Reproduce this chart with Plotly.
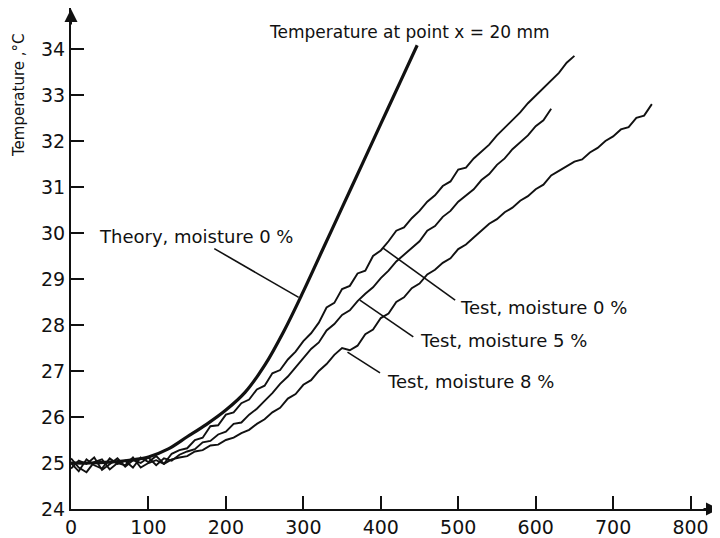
import plotly.graph_objects as go

# ---------------- data ----------------
theory_x = [0, 25, 50, 75, 100, 125, 150, 175, 200, 225, 250, 275, 300, 325, 350, 375, 400, 425, 447]
theory_t = [25.0, 25.0, 25.02, 25.06, 25.13, 25.3, 25.57, 25.84, 26.15, 26.54, 27.12, 27.87, 28.73, 29.64,
            30.55, 31.46, 32.37, 33.28, 34.08]

test0_x = list(range(0, 651, 10))
test0_t = [25.0, 24.82, 25.08, 24.95, 24.88, 25.1, 24.98, 25.05, 24.9, 25.12,
           25.02, 25.15, 24.98, 25.2, 25.28, 25.32, 25.5, 25.55, 25.8, 25.82,
           26.05, 26.1, 26.3, 26.38, 26.6, 26.68, 26.95, 27.02, 27.25, 27.42,
           27.65, 27.82, 28.05, 28.38, 28.48, 28.78, 28.85, 29.12, 29.18, 29.5,
           29.62, 29.82, 30.05, 30.12, 30.32, 30.48, 30.68, 30.82, 31.02, 31.12,
           31.38, 31.42, 31.62, 31.78, 31.92, 32.12, 32.28, 32.45, 32.62, 32.82,
           32.98, 33.15, 33.32, 33.48, 33.7, 33.85]

test5_x = list(range(0, 621, 10))
test5_t = [24.88, 25.05, 24.98, 25.12, 24.85, 24.98, 25.1, 24.92, 25.06, 25.0,
           25.12, 24.95, 25.1, 25.05, 25.18, 25.25, 25.3, 25.45, 25.48, 25.62,
           25.68, 25.85, 25.88, 26.05, 26.18, 26.35, 26.52, 26.72, 26.88, 27.08,
           27.28, 27.48, 27.62, 27.88, 28.02, 28.22, 28.32, 28.52, 28.68, 28.82,
           29.02, 29.18, 29.38, 29.52, 29.68, 29.82, 30.05, 30.15, 30.35, 30.48,
           30.68, 30.82, 30.95, 31.15, 31.28, 31.48, 31.62, 31.82, 31.98, 32.12,
           32.32, 32.45, 32.7]

test8_x = list(range(0, 751, 10))
test8_t = [25.1, 24.9, 24.8, 25.02, 25.08, 24.86, 25.0, 24.95, 25.12, 24.9,
           25.0, 25.06, 24.98, 25.08, 25.12, 25.15, 25.25, 25.28, 25.38, 25.4,
           25.5, 25.55, 25.65, 25.72, 25.85, 25.95, 26.1, 26.2, 26.4, 26.5,
           26.7, 26.8, 27.0, 27.15, 27.35, 27.5, 27.45, 27.55, 27.8, 27.9,
           28.15, 28.25, 28.5, 28.6, 28.8, 28.9, 29.1, 29.2, 29.35, 29.45,
           29.65, 29.75, 29.9, 30.05, 30.2, 30.3, 30.45, 30.55, 30.7, 30.8,
           30.95, 31.05, 31.25, 31.35, 31.45, 31.55, 31.6, 31.75, 31.85, 32.0,
           32.1, 32.25, 32.3, 32.5, 32.55, 32.8]

x_ticks = [0, 100, 200, 300, 400, 500, 600, 700, 800]
y_ticks = [24, 25, 26, 27, 28, 29, 30, 31, 32, 33, 34]

# labels: (text, text_x, text_y, leader_from_x, leader_from_y, leader_to_x, leader_to_y)
labels = [
    ("Theory, moisture 0 %", 33, 29.93, 185, 29.66, 294, 28.6),
    ("Test, moisture 0 %", 500, 28.39, 403, 29.67, 496, 28.54),
    ("Test, moisture 5 %", 448, 27.67, 373, 28.54, 442, 27.74),
    ("Test, moisture 8 %", 406, 26.78, 357, 27.41, 399, 26.96),
]
title_text = "Temperature at point x = 20 mm"
ytitle_text = "Temperature ,°C"

FONT = "DejaVu Sans"
BLACK = "#111111"

fig = go.Figure()
fig.add_trace(go.Scatter(x=theory_x, y=theory_t, mode="lines",
                         line=dict(color=BLACK, width=3.2, shape="spline", smoothing=1.0),
                         showlegend=False))
for xs, ts in [(test0_x, test0_t), (test5_x, test5_t), (test8_x, test8_t)]:
    fig.add_trace(go.Scatter(x=xs, y=ts, mode="lines", line=dict(color=BLACK, width=1.9), showlegend=False))

for text, tx, ty, x0, y0, x1, y1 in labels:
    fig.add_shape(type="line", x0=x0, y0=y0, x1=x1, y1=y1, xref="x", yref="y",
                  line=dict(color=BLACK, width=1.6))
    fig.add_annotation(x=tx, y=ty, text=text, showarrow=False, xanchor="left", yanchor="middle",
                       font=dict(family=FONT, size=18, color=BLACK))

fig.add_annotation(x=621, y=34.37, text=title_text, showarrow=False,
                   xanchor="right", yanchor="middle", font=dict(family=FONT, size=17, color=BLACK))
fig.add_annotation(x=-0.08, y=33.0, xref="paper", yref="y", text=ytitle_text, textangle=-90,
                   showarrow=False, xanchor="center", yanchor="middle",
                   font=dict(family=FONT, size=15, color=BLACK))

# axis arrows
fig.add_annotation(x=1, y=0, xref="paper", yref="paper", ax=-18, ay=0, text="", showarrow=True,
                   arrowhead=2, arrowsize=1.3, arrowwidth=2, arrowcolor=BLACK)
fig.add_annotation(x=0, y=1, xref="paper", yref="paper", ax=0, ay=18, text="", showarrow=True,
                   arrowhead=2, arrowsize=1.3, arrowwidth=2, arrowcolor=BLACK)

axis_common = dict(showline=True, linecolor=BLACK, linewidth=2, ticks="inside", ticklen=13, tickwidth=2,
                   tickcolor=BLACK, showgrid=False, zeroline=False,
                   tickfont=dict(family=FONT, size=19, color=BLACK))
fig.update_xaxes(range=[0, 838], tickvals=x_ticks, **axis_common)
fig.update_yaxes(range=[24, 34.89], tickvals=y_ticks, **axis_common)

# page body has an 8px margin: the figure is sized so that it fills the 720x538 window
fig.update_layout(width=712, height=530, margin=dict(l=63, r=0, t=0, b=29),
                  plot_bgcolor="white", paper_bgcolor="white")

fig.write_html("out.html")
